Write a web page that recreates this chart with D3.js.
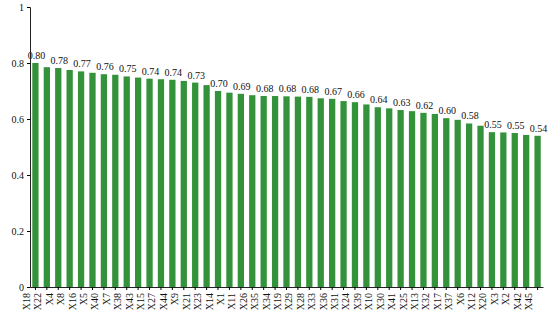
<!DOCTYPE html>
<html>
<head>
  <style>
    body {
      margin: 0;
      background: #fff;
    }
    text {
      font-family: "Liberation Serif", "DejaVu Serif", serif;
    }
  </style>
</head>
<body>
  <script src="https://d3js.org/d3.v7.min.js"></script>
  <script>
    var width = 550,
        height = 320;

    var names = ["X18", "X22", "X4", "X8", "X16", "X5", "X40", "X7", "X38", "X43",
                 "X15", "X27", "X44", "X9", "X21", "X23", "X14", "X1", "X11", "X26",
                 "X35", "X34", "X19", "X29", "X28", "X33", "X36", "X31", "X24", "X39",
                 "X10", "X30", "X41", "X25", "X13", "X32", "X17", "X37", "X6", "X12",
                 "X20", "X3", "X2", "X42", "X45"];

    var values = [0.800, 0.785, 0.782, 0.775, 0.770, 0.765, 0.760, 0.758, 0.752, 0.748,
                  0.744, 0.742, 0.740, 0.736, 0.730, 0.721, 0.700, 0.694, 0.690, 0.685,
                  0.682, 0.682, 0.681, 0.680, 0.679, 0.674, 0.672, 0.664, 0.660, 0.652,
                  0.642, 0.638, 0.632, 0.628, 0.622, 0.618, 0.603, 0.597, 0.584, 0.576,
                  0.553, 0.552, 0.550, 0.543, 0.540];

    var yTicks = [0, 0.2, 0.4, 0.6, 0.8, 1];

    var margin = {left: 30, right: 7, top: 7, bottom: 33};

    var svg = d3.select("body").append("svg")
        .attr("width", width)
        .attr("height", height);

    var x = d3.scaleBand()
        .domain(names)
        .range([margin.left, width - margin.right])
        .paddingInner(0.45)
        .paddingOuter(0.2);

    var y = d3.scaleLinear()
        .domain([0, 1])
        .range([height - margin.bottom, margin.top]);

    var data = names.map((n, i) => ({name: n, value: values[i], i: i}));

    svg.selectAll(".bar")
        .data(data)
      .enter().append("rect")
        .attr("class", "bar")
        .attr("x", d => x(d.name))
        .attr("y", d => y(d.value))
        .attr("width", x.bandwidth())
        .attr("height", d => y(0) - y(d.value))
        .attr("fill", "#34923a");

    // value labels on every other bar
    svg.selectAll(".val")
        .data(data.filter(d => d.i % 2 === 0))
      .enter().append("text")
        .attr("class", "val")
        .attr("x", d => x(d.name) + x.bandwidth() / 2 + 1)
        .attr("y", d => y(d.value) - 4)
        .attr("text-anchor", "middle")
        .style("font-size", "10px")
        .attr("fill", "#111")
        .text(d => d3.format(".2f")(d.value));

    var yAxis = svg.append("g")
        .attr("transform", "translate(" + margin.left + ",0)")
        .call(d3.axisLeft(y).tickValues(yTicks).tickFormat(d3.format("~g")).tickSize(3));
    yAxis.select(".domain").attr("stroke", "#222");
    yAxis.selectAll("text")
        .style("font-family", "Liberation Serif, serif")
        .style("font-size", "10px")
        .attr("fill", "#111");

    var xAxis = svg.append("g")
        .attr("transform", "translate(0," + y(0) + ")")
        .call(d3.axisBottom(x).tickSize(3).tickSizeOuter(0));
    xAxis.select(".domain").attr("stroke", "#222");
    xAxis.selectAll("text")
        .style("font-family", "Liberation Serif, serif")
        .style("font-size", "10px")
        .attr("fill", "#111")
        .attr("transform", "rotate(-90)")
        .attr("text-anchor", "end")
        .attr("dx", "-0.4em")
        .attr("dy", "-0.55em")
        .attr("y", 0)
        .attr("x", -2);
  </script>
</body>
</html>
